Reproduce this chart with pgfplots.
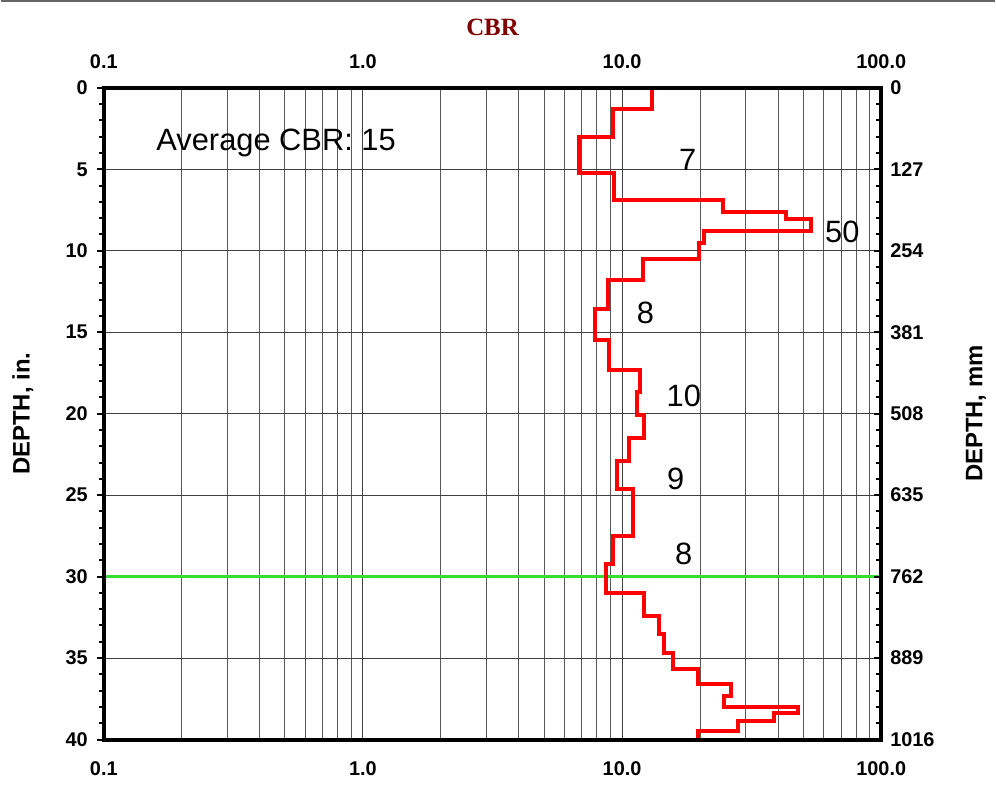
\documentclass[border=0pt]{standalone}
\usepackage{pgfplots}
\pgfplotsset{compat=1.18}
\usepackage{fontspec}
\setmainfont{Liberation Sans}
\newfontfamily\titlefont{Liberation Serif}
\definecolor{cbrred}{RGB}{255,0,0}
\definecolor{limegreen}{RGB}{51,221,51}
\definecolor{titlered}{RGB}{128,0,0}

\begin{document}
\begin{tikzpicture}
\pgfplotsset{
  every axis/.append style={
    scale only axis, width=389.5bp, height=326.5bp,
    xmode=log, xmin=0.1, xmax=100,
    y dir=reverse,
    axis line style={line width=2bp},
    tick label style={font=\bfseries\fontsize{10}{12}\selectfont},
    /pgf/number format/assume math mode=true,
    /pgf/number format/1000 sep={},
    xtick={0.1,1,10,100},
    xticklabels={0.1,1.0,10.0,100.0},
    xtick style={draw=none},
    major tick length=3.5bp, minor tick length=2.5bp,
  }
}
% main axis: inches on the left, CBR labels at the bottom
\begin{axis}[
  ymin=0, ymax=40,
  ytick={0,5,...,40}, minor ytick={0,1,...,40},
  ytick pos=left, tick align=outside,
  ytick style={line width=1bp, black},
  xticklabel pos=lower,
  minor xtick={0.2,0.3,0.4,0.5,0.6,0.7,0.8,0.9,2,3,4,5,6,7,8,9,20,30,40,50,60,70,80,90},
  xmajorgrids, xminorgrids, ymajorgrids,
  major grid style={line width=0.5bp, black!75},
  minor grid style={line width=0.5bp, black!65},
  ylabel={DEPTH, in.},
  ylabel style={font=\bfseries\fontsize{12}{14}\selectfont, at={(rel axis cs:0,0.5)}, anchor=center, yshift=40.5bp},
  xticklabel style={yshift=-4bp},
  yticklabel style={xshift=-1bp},
  clip=false,
]
\node[anchor=west, font=\fontsize{15.5}{18}\selectfont] at (axis cs:0.15,3.37) {Average CBR: 15};
\node[font=\fontsize{15.5}{18}\selectfont] at (axis cs:17.9,4.4) {7};
\node[font=\fontsize{15.5}{18}\selectfont] at (axis cs:70.8,8.82) {50};
\node[font=\fontsize{15.5}{18}\selectfont] at (axis cs:12.3,13.84) {8};
\node[font=\fontsize{15.5}{18}\selectfont] at (axis cs:17.3,18.9) {10};
\node[font=\fontsize{15.5}{18}\selectfont] at (axis cs:16.1,24.0) {9};
\node[font=\fontsize{15.5}{18}\selectfont] at (axis cs:17.3,28.6) {8};
\addplot[limegreen, line width=1.6bp, forget plot] coordinates {(0.1,30) (100,30)};
\addplot[cbrred, line width=2bp, line join=miter, forget plot] coordinates {
  (13,0) (13,1.3) (9.2,1.3) (9.2,3) (6.8,3) (6.8,5.2) (9.3,5.2) (9.3,6.9)
  (24.6,6.9) (24.6,7.6) (42.8,7.6) (42.8,8.05) (53.5,8.05) (53.5,8.8)
  (20.7,8.8) (20.7,9.55) (19.8,9.55) (19.8,10.5) (12.05,10.5) (12.05,11.8)
  (8.8,11.8) (8.8,13.6) (7.85,13.6) (7.85,15.5) (8.9,15.5) (8.9,17.3)
  (11.7,17.3) (11.7,18.7) (11.4,18.7) (11.4,20.1) (12.15,20.1) (12.15,21.5)
  (10.6,21.5) (10.6,22.9) (9.6,22.9) (9.6,24.6) (11.0,24.6) (11.0,27.5)
  (9.2,27.5) (9.2,29.2) (8.65,29.2) (8.65,31.0) (12.1,31.0) (12.1,32.4)
  (13.9,32.4) (13.9,33.5) (14.45,33.5) (14.45,34.7) (15.7,34.7) (15.7,35.7)
  (19.6,35.7) (19.6,36.6) (26.3,36.6) (26.3,37.3) (24.7,37.3) (24.7,38.0)
  (47.8,38.0) (47.8,38.4) (38.7,38.4) (38.7,38.85) (28.1,38.85) (28.1,39.5)
  (19.7,39.5) (19.7,40)
};
\end{axis}
% overlay axis: millimetres on the right, CBR labels on top
\begin{axis}[
  ymin=0, ymax=1016,
  ytick={0,127,...,1016}, minor ytick={0,25.4,...,1016},
  ytick pos=right, yticklabel pos=right, tick align=inside,
  ytick style={line width=1bp, black},
  xticklabel pos=upper,
  xticklabel style={yshift=6bp},
  yticklabel style={xshift=1bp},
  ylabel={DEPTH, mm},
  ylabel style={font=\bfseries\fontsize{12}{14}\selectfont, at={(rel axis cs:1,0.5)}, anchor=center, yshift=-47.5bp},
  clip=false,
]
\node[font=\titlefont\bfseries\fontsize{12.5}{14}\selectfont, text=titlered] at (rel axis cs:0.5,1) [yshift=30.5bp] {CBR};
\end{axis}
\pgfresetboundingbox
\draw[black!60, line width=1bp] (-51.5bp,370bp) -- (446.5bp,370bp);
\path (-51.5bp,-26bp) rectangle (446.5bp,370.5bp);
\end{tikzpicture}
\end{document}
